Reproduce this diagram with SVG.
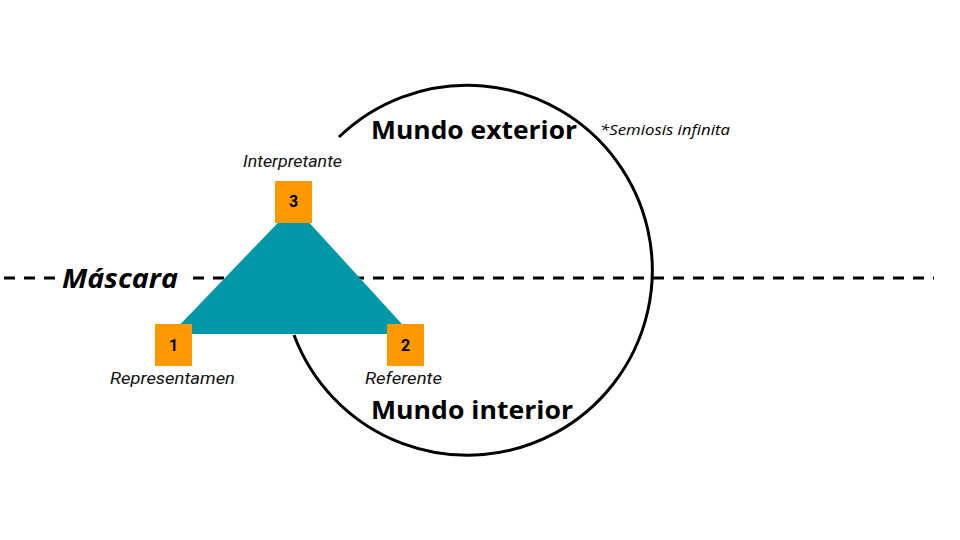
<svg xmlns="http://www.w3.org/2000/svg" width="960" height="540" viewBox="0 0 960 540">
<style>
.dash{stroke:#000;stroke-width:3;stroke-dasharray:11 9;fill:none}
.sq{fill:#FF9900}
.num{font-family:Roboto,"Liberation Sans",sans-serif;font-weight:bold;font-size:16px;fill:#000;text-anchor:middle}
.lab{font-family:Roboto,"Liberation Sans",sans-serif;font-style:italic;font-size:17px;fill:#111}
.big{font-family:"Open Sans","Liberation Sans",sans-serif;font-weight:bold;font-size:25px;fill:#000}
</style>
<rect width="960" height="540" fill="#fff"/>
<g id="connectors">
<line class="dash" x1="4" y1="278" x2="58" y2="278"/>
<line class="dash" x1="193" y1="278" x2="934" y2="278"/>
<path d="M 339 137 A 185 185 0 1 1 294 335" fill="none" stroke="#000" stroke-width="3"/>
</g>
<g id="mascara">
<text x="62" y="288" font-family="'Open Sans','Liberation Sans',sans-serif" font-weight="bold" font-style="italic" font-size="27" textLength="116" lengthAdjust="spacingAndGlyphs">Máscara</text>
</g>
<g id="triangle">
<polygon points="294,206 171,334 411,334" fill="#0097A7"/>
</g>
<g id="node3">
<rect class="sq" x="275" y="181" width="37" height="42"/>
<text class="num" x="293.5" y="207">3</text>
<text class="lab" x="243" y="167" textLength="99" lengthAdjust="spacingAndGlyphs">Interpretante</text>
</g>
<g id="node1">
<rect class="sq" x="155" y="324" width="37" height="42"/>
<text class="num" x="173.5" y="351">1</text>
<text class="lab" x="110" y="384" textLength="125" lengthAdjust="spacingAndGlyphs">Representamen</text>
</g>
<g id="node2">
<rect class="sq" x="387" y="324" width="37" height="42"/>
<text class="num" x="405.5" y="351">2</text>
<text class="lab" x="365" y="384" textLength="77" lengthAdjust="spacingAndGlyphs">Referente</text>
</g>
<g id="exterior">
<text class="big" x="371" y="139" textLength="206" lengthAdjust="spacingAndGlyphs">Mundo exterior</text>
</g>
<g id="interior">
<text class="big" x="371" y="419" textLength="202" lengthAdjust="spacingAndGlyphs">Mundo interior</text>
</g>
<g id="semiosis">
<text x="600" y="135" font-family="'Open Sans','Liberation Sans',sans-serif" font-style="italic" font-size="15" fill="#000" textLength="130" lengthAdjust="spacingAndGlyphs">*Semiosis infinita</text>
</g>
</svg>
